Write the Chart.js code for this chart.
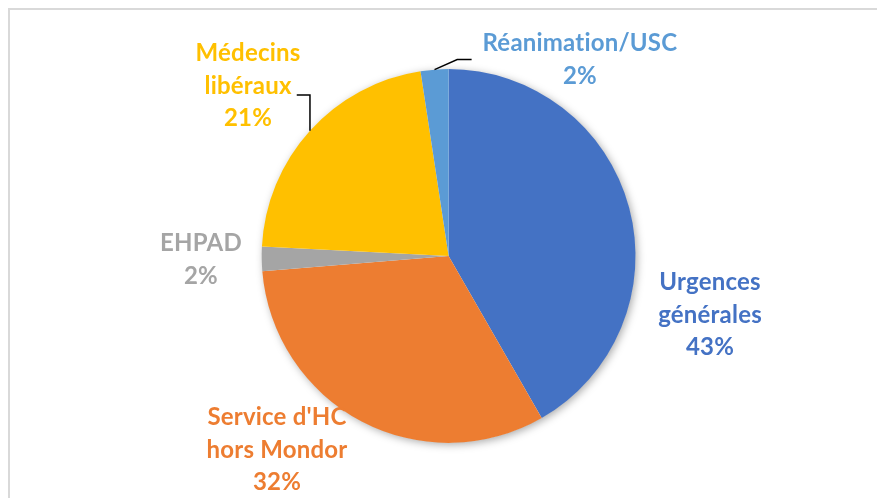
<!DOCTYPE html>
<html>
<head>
<meta charset="utf-8">
<script src="https://cdn.jsdelivr.net/npm/chart.js@4.4.1/dist/chart.umd.min.js"></script>
<style>
  html, body { margin: 0; padding: 0; background: #ffffff; }
  #wrap { position: relative; width: 877px; height: 498px; overflow: hidden; }
  #frame { position: absolute; left: 8px; top: 8px; width: 900px; height: 520px;
           border-top: 2px solid #d9d9d9; border-left: 2px solid #d9d9d9; box-sizing: border-box; }
  canvas { position: absolute; left: 0; top: 0; }
</style>
</head>
<body>
<div id="wrap">
  <div id="frame"></div>
  <canvas id="c" width="877" height="498"></canvas>
</div>
<script>
// ---- data ----
const categories = ['Urgences générales', "Service d'HC hors Mondor", 'EHPAD', 'Médecins libéraux', 'Réanimation/USC'];
const values = [41.7, 32.0, 2.1, 21.8, 2.4];
const percentLabels = ['43%', '32%', '2%', '21%', '2%'];
const labelLines = [['Urgences', 'générales'], ["Service d'HC", 'hors Mondor'], ['EHPAD'], ['Médecins', 'libéraux'], ['Réanimation/USC']];
const colors = ['#4472C4', '#ED7D31', '#A5A5A5', '#FFC000', '#5B9BD5'];

// label placement: polar (degrees clockwise from top, distance as multiple of radius)
const labelPolar = [[102.7, 1.434], [221.5, 1.386], [269.1, 1.325], [310.3, 1.407], [33.8, 1.263]];
const LINE_H = 32.5;
const FONT = 'bold 24px Lato';

function polar(cx, cy, deg, dist) {
  const a = deg * Math.PI / 180;
  return { x: cx + dist * Math.sin(a), y: cy - dist * Math.cos(a) };
}

const shadowPlugin = {
  id: 'pieShadow',
  beforeDatasetsDraw(chart) {
    const arc = chart.getDatasetMeta(0).data[0];
    if (!arc) return;
    const ctx = chart.ctx;
    ctx.save();
    ctx.shadowColor = 'rgba(0,0,0,0.35)';
    ctx.shadowBlur = 9;
    ctx.shadowOffsetX = 2;
    ctx.shadowOffsetY = 2;
    ctx.fillStyle = '#ffffff';
    ctx.beginPath();
    ctx.arc(arc.x, arc.y, arc.outerRadius - 0.5, 0, Math.PI * 2);
    ctx.fill();
    ctx.restore();
  }
};

const labelPlugin = {
  id: 'outerLabels',
  afterDatasetsDraw(chart) {
    const meta = chart.getDatasetMeta(0);
    const ctx = chart.ctx;
    const first = meta.data[0];
    const cx = first.x, cy = first.y, r = first.outerRadius;
    ctx.save();
    ctx.font = FONT;
    if ('letterSpacing' in ctx) ctx.letterSpacing = '0.2px';
    ctx.textAlign = 'center';
    ctx.textBaseline = 'middle';
    const centers = [];
    meta.data.forEach((arc, i) => {
      const [deg, f] = labelPolar[i];
      const p = polar(cx, cy, deg, r * f);
      centers.push(p);
      const lines = labelLines[i].concat([percentLabels[i]]);
      const n = lines.length;
      ctx.fillStyle = colors[i];
      lines.forEach((t, k) => {
        ctx.fillText(t, p.x, p.y + (k - (n - 1) / 2) * LINE_H);
      });
    });
    // leader lines
    ctx.strokeStyle = '#000000';
    ctx.lineWidth = 1.5;
    // Réanimation/USC
    {
      const arc = meta.data[4];
      const mid = (arc.startAngle + arc.endAngle) / 2;
      const ex = arc.x + r * Math.cos(mid), ey = arc.y + r * Math.sin(mid);
      const c = centers[4];
      ctx.beginPath();
      ctx.moveTo(ex, ey);
      ctx.lineTo(c.x - 122.7, c.y - 0.3);
      ctx.lineTo(c.x - 108.3, c.y - 0.3);
      ctx.stroke();
    }
    // Médecins libéraux
    {
      const arc = meta.data[3];
      const mid = (arc.startAngle + arc.endAngle) / 2;
      const ex = arc.x + r * Math.cos(mid), ey = arc.y + r * Math.sin(mid);
      const c = centers[3];
      ctx.beginPath();
      ctx.moveTo(c.x + 48.7, c.y + 9);
      ctx.lineTo(ex, c.y + 9);
      ctx.lineTo(ex, ey);
      ctx.stroke();
    }
    ctx.restore();
  }
};

new Chart(document.getElementById('c'), {
  type: 'pie',
  data: {
    labels: categories,
    datasets: [{
      data: values,
      backgroundColor: colors,
      borderWidth: 0,
      hoverOffset: 0
    }]
  },
  options: {
    responsive: false,
    animation: false,
    events: [],
    layout: { padding: { left: 40.2, right: 20, top: 69.1, bottom: 55.1 } },
    plugins: {
      legend: { display: false },
      tooltip: { enabled: false },
      title: { display: false }
    }
  },
  plugins: [shadowPlugin, labelPlugin]
});
</script>
</body>
</html>
